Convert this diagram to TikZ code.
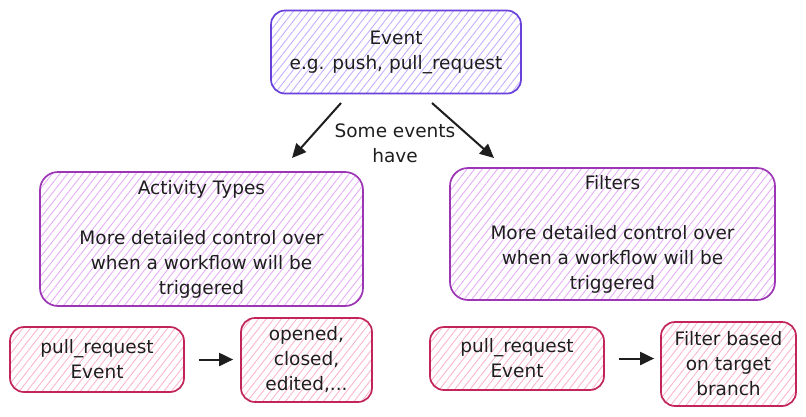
\documentclass[tikz,border=0pt]{standalone}
\usepackage{fontspec}
\setmainfont{DejaVu Sans}
\usetikzlibrary{patterns.meta,arrows.meta}
\definecolor{violetS}{HTML}{6741D9}
\definecolor{violetF}{HTML}{C4B0FF}
\definecolor{grapeS}{HTML}{9C36B5}
\definecolor{grapeF}{HTML}{E5AEF7}
\definecolor{pinkS}{HTML}{C2255C}
\definecolor{pinkF}{HTML}{FAB6CE}
\definecolor{inkC}{HTML}{1E1E1E}
\tikzset{
  box/.style={draw, line width=1.7pt, rounded corners=14pt, align=center, inner sep=0pt,
    text=inkC, font=\fontsize{18.5}{25}\selectfont},
  topbox/.style={box, draw=violetS, pattern={Lines[angle=52,distance=6pt,line width=0.9pt]}, pattern color=violetF},
  midbox/.style={box, draw=grapeS, rounded corners=18pt, pattern={Lines[angle=52,distance=6pt,line width=0.9pt]}, pattern color=grapeF},
  lowbox/.style={box, draw=pinkS, pattern={Lines[angle=52,distance=6pt,line width=0.9pt]}, pattern color=pinkF},
  conn/.style={draw=inkC, line width=2pt, -{Triangle[length=14pt,width=13pt]}},
  label/.style={text=inkC, font=\fontsize{18.5}{25}\selectfont, align=center, inner sep=0pt}
}
\begin{document}
\begin{tikzpicture}[x=1pt,y=-1pt]
\useasboundingbox (0,0) rectangle (806,416);
\node[topbox, minimum width=250pt, minimum height=83pt] (event) at (396,52) {Event\\e.g. push, pull\_request};
\node[midbox, minimum width=323pt, minimum height=134pt] (activity) at (201.5,239)
  {Activity Types\\[25pt]More detailed control over\\when a workflow will be\\triggered};
\node[midbox, minimum width=325pt, minimum height=132pt] (filters) at (612.5,234)
  {Filters\\[25pt]More detailed control over\\when a workflow will be\\triggered};
\node[lowbox, minimum width=174pt, minimum height=65pt] (pr1) at (97,359.5) {pull\_request\\Event};
\node[lowbox, minimum width=131pt, minimum height=84pt] (types) at (306.5,360) {opened,\\closed,\\edited,...};
\node[lowbox, minimum width=174pt, minimum height=63pt] (pr2) at (517,358.5) {pull\_request\\Event};
\node[lowbox, minimum width=135pt, minimum height=84pt] (branch) at (728.5,364) {Filter based\\on target\\branch};
\node[label] (some) at (395,143) {Some events\\have};
\coordinate (l1) at (341,103);
\coordinate (l2) at (292,158);
\coordinate (r1) at (432,103);
\coordinate (r2) at (494,158);
\draw[conn] (l1) -- (l2);
\draw[conn] (r1) -- (r2);
\draw[conn, shorten <=14pt, shorten >=7pt] (pr1.east) -- (pr1.east -| types.west);
\draw[conn, shorten <=14pt, shorten >=6pt] (pr2.east) -- (pr2.east -| branch.west);
\end{tikzpicture}
\end{document}
